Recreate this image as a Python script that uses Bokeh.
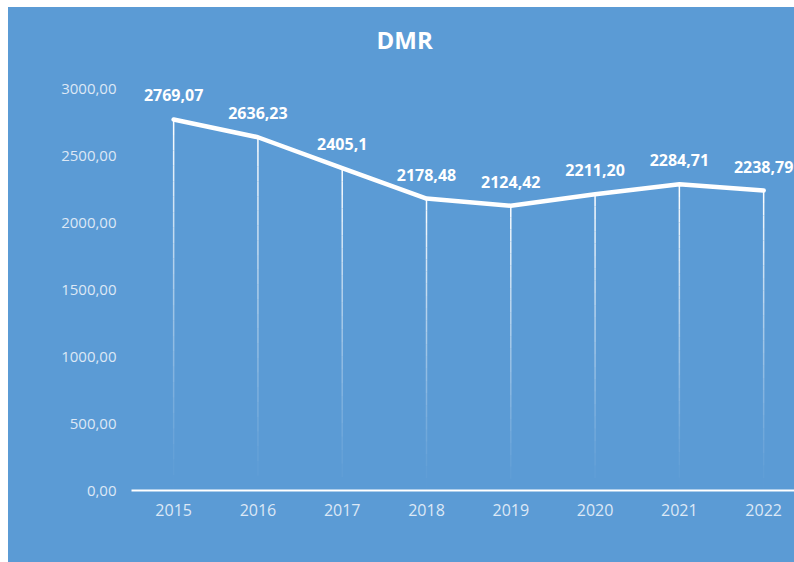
from bokeh.plotting import figure
from bokeh.models import Range1d, FixedTicker
from bokeh.embed import file_html
from bokeh.resources import INLINE
from bokeh.core.properties import value

years = [2015, 2016, 2017, 2018, 2019, 2020, 2021, 2022]
values = [2769.07, 2636.23, 2405.1, 2178.48, 2124.42, 2211.20, 2284.71, 2238.79]
value_labels = ["2769,07", "2636,23", "2405,1", "2178,48", "2124,42", "2211,20", "2284,71", "2238,79"]
y_ticks = [0, 500, 1000, 1500, 2000, 2500, 3000]
y_tick_labels = ["0,00", "500,00", "1000,00", "1500,00", "2000,00", "2500,00", "3000,00"]
title_text = "DMR"

BG = "#5b9bd5"
LIGHT = "#dde8f5"
FONT = "Open Sans"

p = figure(width=786, height=555, output_backend="svg", toolbar_location=None,
           x_range=Range1d(2014.5, 2022.366), y_range=Range1d(0, 3209),
           min_border_left=123, min_border_right=0, min_border_top=53, min_border_bottom=72)
p.margin = (7, 0, 0, 8)
p.styles = {"background-color": BG}
p.background_fill_color = BG
p.background_fill_alpha = 0
p.border_fill_color = BG
p.border_fill_alpha = 0
p.outline_line_color = None
p.grid.visible = False

p.title.text = title_text
p.title.text_font = FONT
p.title.text_font_size = "24px"
p.title.text_font_style = "bold"
p.title.text_color = "white"
p.title.align = "left"
p.title.offset = 245

# x axis
xa = p.xaxis[0]
xa.ticker = FixedTicker(ticks=years)
xa.axis_line_color = "white"
xa.axis_line_width = 2
xa.major_tick_line_color = None
xa.minor_tick_line_color = None
xa.major_tick_out = 0
xa.major_tick_in = 0
xa.major_label_standoff = 13
xa.major_label_text_font = FONT
xa.major_label_text_font_size = "16px"
xa.major_label_text_color = LIGHT

# y axis
ya = p.yaxis[0]
ya.ticker = FixedTicker(ticks=y_ticks)
ya.major_label_overrides = {t: l for t, l in zip(y_ticks, y_tick_labels)}
ya.axis_line_color = None
ya.major_tick_line_color = None
ya.minor_tick_line_color = None
ya.major_tick_out = 0
ya.major_tick_in = 0
ya.major_label_standoff = 15
ya.major_label_text_font = FONT
ya.major_label_text_font_size = "15px"
ya.major_label_text_color = LIGHT

# drop lines with fading gradient
N = 24
x0s, y0s, x1s, y1s, alphas = [], [], [], [], []
for yr, v in zip(years, values):
    for k in range(N):
        t0 = k / N
        t1 = (k + 1) / N
        x0s.append(yr); x1s.append(yr)
        y0s.append(v * (1 - t0)); y1s.append(v * (1 - t1))
        alphas.append(max(0.0, 1.0 - (t0 + t1) / 2) ** 1.2)
p.segment(x0s, y0s, x1s, y1s, line_color="white", line_width=1.5, line_alpha=alphas)

# main line
p.line(years, values, line_color="white", line_width=4.5, line_cap="round", line_join="round")

# data labels
p.text(years, values, text=value_labels, text_align="center", text_baseline="middle",
       y_offset=-24, text_color="white", text_font=value(FONT), text_font_size="16px",
       text_font_style="bold")

open("out.html", "w").write(file_html(p, INLINE))
